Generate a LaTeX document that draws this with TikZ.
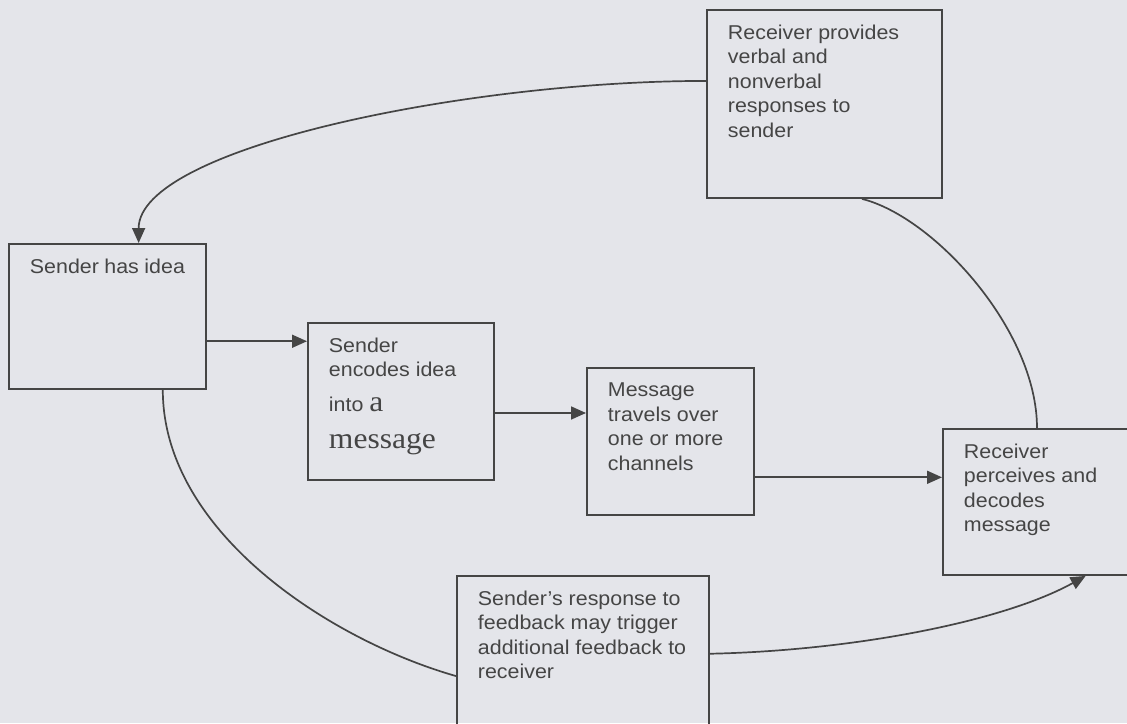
\documentclass[tikz,border=0pt]{standalone}
\usepackage{fontspec}
\setmainfont{Liberation Sans}[FakeStretch=1.07]
\newfontfamily\timesfont{Liberation Serif}[FakeStretch=1.07]
\usetikzlibrary{arrows.meta}
\definecolor{paper}{HTML}{E4E5EA}
\definecolor{ink}{HTML}{454545}
\newcommand{\boxtext}[3]{\parbox[t][#2][t]{#1}{\raggedright\fontsize{20}{24.5}\selectfont #3}}
\newcommand{\bigserif}[1]{{\timesfont\fontsize{29.5}{30}\selectfont #1}}
\tikzset{
	stage/.style={draw=ink, line width=1.9pt, anchor=north west, inner xsep=21pt, inner ysep=15pt, text=ink},
	flow/.style={draw=ink, line width=1.7pt},
	arrowed/.style={-{Triangle[length=15pt,width=13pt]}}
}
\begin{document}
\begin{tikzpicture}[x=1pt,y=-1pt]
		\fill[paper] (0,0) rectangle (1127,723);
		\useasboundingbox (0,0) rectangle (1127,723);
		% stages
		\node[stage] (idea) at (8,243) {\boxtext{155pt}{115pt}{Sender has idea}};
		\node[stage] (encode) at (307,322) {\boxtext{144pt}{127pt}{Sender\\encodes idea\\[10.5pt]into \bigserif{a}\\[12.5pt]\bigserif{message}}};
		\node[stage] (travel) at (586,367) {\boxtext{125pt}{117pt}{Message\\travels over\\one or more\\channels}};
		\node[stage] (perceive) at (942,428) {\boxtext{158pt}{116pt}{Receiver\\perceives and\\decodes\\message}};
		\node[stage] (provide) at (706,9) {\boxtext{193pt}{158pt}{Receiver provides\\verbal and\\nonverbal\\responses to\\sender}};
		\node[stage] (respond) at (456,575) {\boxtext{210pt}{130pt}{Sender's~response~to\\feedback~may~trigger\\additional~feedback~to\\receiver}};
		% straight arrows
		\draw[flow,arrowed] (idea.-14.5) -- (idea.-14.5 -| encode.west);
		\draw[flow,arrowed] (encode.-7.7) -- (encode.-7.7 -| travel.west);
		\draw[flow,arrowed] (travel.-23) -- (travel.-23 -| perceive.west);
		% feedback loop
		\draw[flow] ([xshift=156pt]provide.south west) .. controls +(72,18) and +(0,-98) .. ([xshift=95pt]perceive.north west);
		\draw[flow,arrowed] (provide.169.4) .. controls +(-240,0) and +(0,-95) .. (idea.67.2);
		\draw[flow] (idea.-53.1) .. controls +(0,142) and +(-126,-36) .. (respond.189.5);
		\draw[flow,arrowed] (respond.1) .. controls +(142,-3) and +(-83,46) .. (perceive.-60.7);
	\end{tikzpicture}
\end{document}
